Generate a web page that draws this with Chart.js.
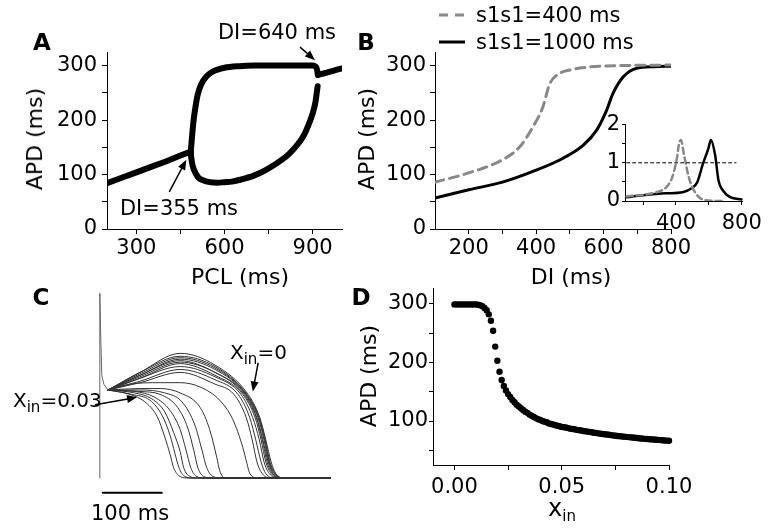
<!DOCTYPE html>
<html lang="en">
<head>
<meta charset="UTF-8">
<title>APD restitution and bifurcation</title>
<script src="https://cdnjs.cloudflare.com/ajax/libs/Chart.js/4.4.1/chart.umd.min.js"></script>
<style>
    body { margin: 0; background: #fff; }
    #fig { position: relative; width: 768px; height: 529px; overflow: hidden; font-family: "DejaVu Sans", sans-serif; color: #000; }
    #fig canvas { position: absolute; }
    .t { position: absolute; white-space: nowrap; line-height: 1; transform: translate(-50%, -50%); font-size: 22px; }
    .lt { position: absolute; white-space: nowrap; line-height: 1; transform: translate(0, -50%); font-size: 21px; }
    .rot { transform: translate(-50%, -50%) rotate(-90deg); }
    .letter { font-weight: bold; font-size: 23px; }
    sub { font-size: 15px; vertical-align: -5px; line-height: 0; }
</style>
</head>
<body>
<div id="fig">
    <canvas id="chartA" width="384" height="265" style="left:0;top:0"></canvas>
    <canvas id="chartB" width="384" height="265" style="left:384px;top:0"></canvas>
    <canvas id="chartInset" width="184" height="125" style="left:584px;top:110px"></canvas>
    <canvas id="chartC" width="384" height="264" style="left:0;top:265px"></canvas>
    <canvas id="chartD" width="384" height="264" style="left:384px;top:265px"></canvas>

    <div class="t letter" style="left:42px;top:42px">A</div>
    <div class="t letter" style="left:366px;top:42px">B</div>
    <div class="t letter" style="left:41px;top:297px">C</div>
    <div class="t letter" style="left:361px;top:297px">D</div>
    <div class="t rot" style="left:35px;top:139px">APD (ms)</div>
    <div class="t rot" style="left:367px;top:139px">APD (ms)</div>
    <div class="t rot" style="left:369px;top:376px">APD (ms)</div>
    <div class="t" style="left:240px;top:277px">PCL (ms)</div>
    <div class="t" style="left:571px;top:277px">DI (ms)</div>
    <div class="t" style="left:562px;top:508px"><span style="font-size:24px">x</span><sub>in</sub></div>
    <div class="t" style="left:277px;top:32px;font-size:21px">DI=640 ms</div>
    <div class="t" style="left:179px;top:208px;font-size:21px">DI=355 ms</div>
    <div class="t" style="left:130px;top:513px;font-size:21px">100 ms</div>
    <div class="lt" style="left:230px;top:352px;font-size:20px">X<sub>in</sub>=0</div>
    <div class="lt" style="left:13px;top:400px;font-size:20px">X<sub>in</sub>=0.03</div>
    <div class="lt" style="left:476px;top:15px">s1s1=400 ms</div>
    <div class="lt" style="left:476px;top:42px">s1s1=1000 ms</div>
</div>

<script>
    // ---- Panel A: APD vs PCL bifurcation (PCL ms, APD ms)
    const aLowLeft = [[200,84],[250,94],[300,104],[350,114],[400,124],[450,135],[485,142]];
    const aUpper = [[485,142],[488,160],[492,185],[496,205],[500,220],[508,245],[520,265],[540,281],[560,289],[600,296],
                    [650,299],[700,300],[800,300],[900,300],[908,299],[913,296],[916,290],[918,283]];
    const aLower = [[485,142],[487,130],[490,120],[495,110],[502,102],[512,94],[525,90],[550,86],[575,85],[600,86],
                    [625,87],[650,90],[700,98],[740,108],[790,125],[820,138],[850,156],[870,172],[885,190],[900,212],
                    [905,222],[910,234],[914,250],[917,262]];
    const aTail = [[918,283],[925,284],[940,286],[960,289],[980,292],[1000,295]];
    const aTicksX = [300,450,600,750,900], aLabelsX = [300,600,900];
    const apdTicks = [0,50,100,150,200,250,300], apdLabels = [0,100,200,300];
    const arrowsA = [[412,68,470,127],[857,334,908,310]];

    // ---- Panel B: restitution (DI ms, APD ms) and inset slope
    const bS1s1_400 = [[100,86],[200,103],[300,127],[350,150],[390,187],[420,224],[440,266],[465,284],[500,292],[550,297],[650,300],[800,301]];
    const bS1s1_1000 = [[100,57],[200,72],[300,86],[400,108],[480,130],[540,154],[580,182],[607,215],[628,249],[658,279],[697,295],[750,298],[800,299]];
    const bTicksX = [200,300,400,500,600,700,800], bLabelsX = [200,400,600,800];
    const insetS1s1_400 = [[100,0.12],[281,0.23],[341,0.36],[377,0.62],[406,1.13],[418,1.49],[430,1.6],[448,1.23],[478,0.62],[520,0.2],[580,0.02],[700,0]];
    const insetS1s1_1000 = [[100,0.1],[200,0.15],[340,0.2],[440,0.23],[500,0.35],[530,0.5],[562,0.95],[597,1.38],[612,1.6],[638,1.2],[658,0.55],[690,0.25],[730,0.1],[800,0.04]];
    const insetOne = [[100,1],[765,1]];
    const insetTicksX = [200,400,600,800], insetLabelsX = [400,800];
    const insetTicksY = [0,0.5,1,1.5,2], insetLabelsY = [0,1,2];

    // ---- Panel C: action potentials (ms, mV)
    const cSpike = [[0,-85],[0,41],[1.7,9],[3.4,-15],[6.8,-21],[13.6,-25]];
    const cU1 = [[14,-25],[68,-13],[136,0],[195,-8],[251,-28],[271,-44],[281,-59],[290,-74],[298,-82],[314,-85],[390,-85]];
    const cU2 = [[14,-25],[68,-13],[136,-2],[195,-9],[249,-28],[270,-44],[280,-59],[288,-74],[297,-82],[312,-85],[390,-85]];
    const cU3 = [[14,-25],[68,-14],[136,-3],[195,-10],[248,-28],[269,-44],[279,-59],[287,-74],[296,-82],[311,-85],[390,-85]];
    const cU4 = [[14,-25],[68,-15],[136,-4],[195,-11],[247,-28],[268,-44],[278,-59],[286,-74],[295,-82],[310,-85],[390,-85]];
    const cU5 = [[14,-25],[68,-15],[136,-5],[195,-13],[246,-28],[266,-44],[276,-59],[285,-74],[293,-82],[308,-85],[390,-85]];
    const cU6 = [[14,-25],[68,-16],[136,-6],[195,-13],[244,-28],[265,-44],[275,-59],[283,-74],[292,-82],[307,-85],[390,-85]];
    const cU7 = [[14,-25],[68,-17],[136,-7],[195,-15],[242,-28],[263,-44],[273,-59],[281,-74],[290,-82],[305,-85],[390,-85]];
    const cU8 = [[14,-25],[68,-17],[136,-9],[195,-16],[239,-28],[259,-44],[270,-59],[278,-74],[287,-82],[302,-85],[390,-85]];
    const cU9 = [[14,-25],[68,-19],[136,-11],[195,-18],[234,-28],[254,-44],[264,-59],[273,-74],[281,-82],[297,-85],[390,-85]];
    const cU10 = [[14,-25],[68,-20],[136,-13],[195,-21],[227,-28],[248,-44],[258,-59],[266,-74],[275,-82],[290,-85],[390,-85]];
    const cM1 = [[14,-25],[51,-21],[102,-20],[136,-20],[170,-23],[203,-32],[225,-45],[242,-64],[249,-75],[254,-82],[268,-85],[390,-85]];
    const cM2 = [[14,-25],[68,-24],[102,-24],[136,-27],[170,-37],[186,-52],[198,-71],[203,-80],[212,-85],[390,-85]];
    const cL1 = [[14,-25],[68,-25],[110,-27],[139,-33],[161,-49],[173,-66],[181,-78],[192,-84],[205,-85],[390,-85]];
    const cL2 = [[14,-25],[68,-26],[102,-28],[132,-37],[149,-51],[159,-66],[166,-78],[176,-84],[190,-85],[390,-85]];
    const cL3 = [[14,-25],[59,-26],[93,-30],[119,-39],[136,-52],[146,-66],[154,-78],[164,-84],[178,-85],[390,-85]];
    const cL4 = [[14,-25],[59,-27],[88,-31],[110,-40],[125,-54],[136,-67],[142,-78],[153,-84],[166,-85],[390,-85]];
    const cL5 = [[14,-25],[54,-28],[85,-32],[105,-42],[119,-56],[127,-68],[134,-78],[144,-84],[158,-85],[390,-85]];
    const cL6 = [[14,-25],[51,-28],[76,-33],[97,-43],[110,-57],[119,-69],[125,-78],[136,-84],[150,-85],[390,-85]];
    const cTraces = [cU1,cU2,cU3,cU4,cU5,cU6,cU7,cU8,cU9,cU10,cM1,cM2,cL1,cL2,cL3,cL4,cL5,cL6];
    const cScaleBar = [[5,-95],[105,-95]];
    const arrowsC = [[268,-6.5,259,-26],[-8,-35,63,-30]];

    // ---- Panel D: APD vs x_in
    const xIn = [0.000,0.001,0.002,0.003,0.004,0.005,0.006,0.007,0.008,0.009,
                 0.010,0.011,0.012,0.013,0.014,0.015,0.016,0.017,0.018,0.019,
                 0.020,0.021,0.022,0.023,0.024,0.025,0.026,0.027,0.028,0.029,
                 0.030,0.031,0.032,0.033,0.034,0.035,0.036,0.037,0.038,0.039,
                 0.040,0.041,0.042,0.043,0.044,0.045,0.046,0.047,0.048,0.049,
                 0.050,0.051,0.052,0.053,0.054,0.055,0.056,0.057,0.058,0.059,
                 0.060,0.061,0.062,0.063,0.064,0.065,0.066,0.067,0.068,0.069,
                 0.070,0.071,0.072,0.073,0.074,0.075,0.076,0.077,0.078,0.079,
                 0.080,0.081,0.082,0.083,0.084,0.085,0.086,0.087,0.088,0.089,
                 0.090,0.091,0.092,0.093,0.094,0.095,0.096,0.097,0.098,0.099,
                 0.100];
    const apdD = [299,299,299,299,299,299,299,299,299,299,
                  299,298.5,297.5,296,293,289,282,271,254,227,
                  203,184,170,160,152,146,141,136,132,128,
                  125,122,119,116,114,111,109,107,105,103,
                  102,100,99,98,96,95,94,93,92,91,
                  90,89.5,89,88,87,86.5,86,85,84.5,84,
                  83,82.5,82,81.5,81,80,79.5,79,78.5,78,
                  77.5,77,76.5,76,75.5,75,74.6,74.2,73.8,73.4,
                  73,72.6,72.2,71.8,71.4,71,70.6,70.3,70,69.6,
                  69.3,69,68.7,68.4,68.1,67.8,67.5,67.2,66.9,66.6,
                  66.3];
    const dTicksX = [0,0.025,0.05,0.075,0.1], dLabelsX = [0,0.05,0.1];
    const dTicksY = [50,100,150,200,250,300], dLabelsY = [100,200,300];

    Chart.defaults.font.family = 'DejaVu Sans';
    Chart.defaults.color = '#000';

    const toXY = pts => pts.map(p => ({ x: p[0], y: p[1] }));

    function curve(pts, color, width, dash, smooth) {
        return {
            data: toXY(pts),
            showLine: true,
            pointRadius: 0,
            borderColor: color,
            borderWidth: width,
            borderDash: dash || [],
            borderCapStyle: 'round',
            borderJoinStyle: 'round',
            tension: smooth ? 0.4 : 0,
            cubicInterpolationMode: smooth ? 'monotone' : 'default'
        };
    }

    function axisCfg(min, max, tickVals, labelVals, size, isX, tickLen, pad, fmt) {
        return {
            type: 'linear', min: min, max: max,
            border: { display: true, color: '#000', width: 1 },
            grid: { drawOnChartArea: false, drawTicks: true, tickLength: tickLen, color: '#000', lineWidth: 1 },
            ticks: {
                padding: pad, autoSkip: false, maxRotation: 0, color: '#000',
                font: { size: 21 },
                callback: v => labelVals.includes(v) ? (fmt ? fmt(v) : String(v)) : ''
            },
            afterBuildTicks: s => { s.ticks = tickVals.map(v => ({ value: v })); },
            afterFit: s => { if (isX) s.height = size; else s.width = size; }
        };
    }

    function baseOptions(padding, scales, extra) {
        return {
            responsive: false,
            animation: false,
            devicePixelRatio: 1,
            events: [],
            layout: { padding: padding, autoPadding: false },
            scales: scales,
            plugins: Object.assign({ legend: { display: false }, tooltip: { enabled: false } }, extra || {})
        };
    }

    // arrows given in data coordinates [x0, y0, xTip, yTip]
    const arrowPlugin = {
        id: 'arrows',
        afterDatasetsDraw(chart, args, opts) {
            const ctx = chart.ctx, sx = chart.scales.x, sy = chart.scales.y;
            (opts.list || []).forEach(a => {
                const x0 = sx.getPixelForValue(a[0]), y0 = sy.getPixelForValue(a[1]);
                const x1 = sx.getPixelForValue(a[2]), y1 = sy.getPixelForValue(a[3]);
                const ang = Math.atan2(y1 - y0, x1 - x0), hl = 10, hw = 4;
                const c = Math.cos(ang), s = Math.sin(ang);
                ctx.save();
                ctx.strokeStyle = '#000';
                ctx.fillStyle = '#000';
                ctx.lineWidth = 1.5;
                ctx.beginPath();
                ctx.moveTo(x0, y0);
                ctx.lineTo(x1 - c * hl * 0.8, y1 - s * hl * 0.8);
                ctx.stroke();
                ctx.beginPath();
                ctx.moveTo(x1, y1);
                ctx.lineTo(x1 - hl * c + hw * s, y1 - hl * s - hw * c);
                ctx.lineTo(x1 - hl * c - hw * s, y1 - hl * s + hw * c);
                ctx.closePath();
                ctx.fill();
                ctx.restore();
            });
        }
    };

    // legend line samples for panel B
    const legendLines = {
        id: 'legendLines',
        afterDraw(chart) {
            const ctx = chart.ctx;
            ctx.save();
            ctx.lineWidth = 3;
            ctx.strokeStyle = '#888';
            ctx.setLineDash([9, 7]);
            ctx.beginPath(); ctx.moveTo(55, 15); ctx.lineTo(81, 15); ctx.stroke();
            ctx.setLineDash([]);
            ctx.strokeStyle = '#000';
            ctx.beginPath(); ctx.moveTo(55, 42); ctx.lineTo(81, 42); ctx.stroke();
            ctx.restore();
        }
    };

    // Panel A
    new Chart(document.getElementById('chartA'), {
        type: 'scatter',
        data: { datasets: [
            curve(aLowLeft, '#000', 6, null, false),
            curve(aUpper, '#000', 6, null, true),
            curve(aLower, '#000', 6, null, true),
            curve(aTail, '#000', 6, null, true)
        ] },
        options: baseOptions({ top: 52, right: 42, left: 0, bottom: 0 }, {
            x: axisCfg(200, 1000, aTicksX, aLabelsX, 36, true, 5, 2),
            y: axisCfg(0, 325, apdTicks, apdLabels, 107, false, 5, 5)
        }, { arrows: { list: arrowsA } }),
        plugins: [arrowPlugin]
    });

    // Panel B
    new Chart(document.getElementById('chartB'), {
        type: 'scatter',
        data: { datasets: [
            curve(bS1s1_400, '#888', 3, [9, 6], true),
            curve(bS1s1_1000, '#000', 3, null, true)
        ] },
        options: baseOptions({ top: 52, right: 97, left: 0, bottom: 0 }, {
            x: axisCfg(100, 800, bTicksX, bLabelsX, 36, true, 5, 2),
            y: axisCfg(0, 325, apdTicks, apdLabels, 51, false, 5, 4)
        }),
        plugins: [legendLines]
    });

    // Panel B inset
    new Chart(document.getElementById('chartInset'), {
        type: 'scatter',
        data: { datasets: [
            curve(insetOne, '#000', 1, [3, 3], false),
            curve(insetS1s1_400, '#888', 2.5, [6, 4], true),
            curve(insetS1s1_1000, '#000', 2.5, null, true)
        ] },
        options: baseOptions({ top: 13, right: 23, left: 0, bottom: 0 }, {
            x: axisCfg(90, 805, insetTicksX, insetLabelsX, 34, true, 4, 6),
            y: axisCfg(0, 2, insetTicksY, insetLabelsY, 41, false, 3, 2)
        })
    });

    // Panel C
    const cSets = [curve(cSpike, '#666', 1, null, false)];
    cTraces.forEach(tr => cSets.push(curve(tr, '#333', 1, null, true)));
    cSets.push(curve(cScaleBar, '#000', 2, null, false));
    new Chart(document.getElementById('chartC'), {
        type: 'scatter',
        data: { datasets: cSets },
        options: baseOptions({ top: 15, right: 42, left: 88, bottom: 29 }, {
            x: { type: 'linear', display: false, min: -20, max: 410 },
            y: { type: 'linear', display: false, min: -100, max: 50 }
        }, { arrows: { list: arrowsC } }),
        plugins: [arrowPlugin]
    });

    // Panel D
    new Chart(document.getElementById('chartD'), {
        type: 'scatter',
        data: { datasets: [{
            data: xIn.map((x, i) => ({ x: x, y: apdD[i] })),
            pointRadius: 3.2,
            pointBackgroundColor: '#000',
            pointBorderWidth: 0,
            clip: false
        }] },
        options: baseOptions({ top: 23, right: 99, left: 0, bottom: 0 }, {
            x: axisCfg(-0.01, 0.1, dTicksX, dLabelsX, 64, true, 5, 5, v => v.toFixed(2)),
            y: axisCfg(25, 327, dTicksY, dLabelsY, 49, false, 4, 1)
        })
    });
</script>
</body>
</html>
